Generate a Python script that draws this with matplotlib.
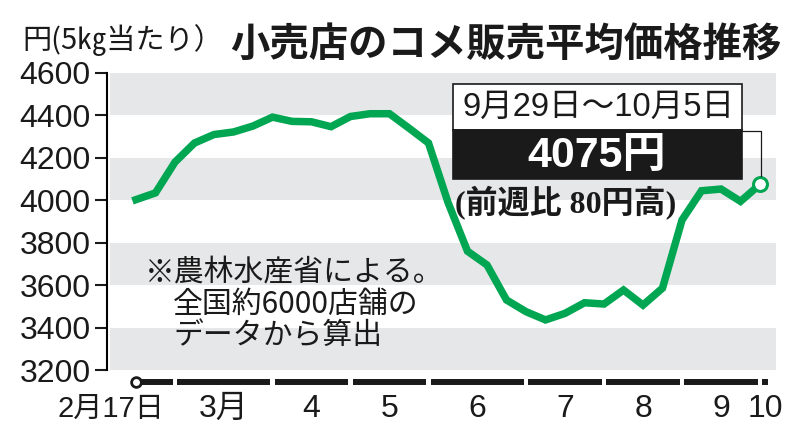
import matplotlib
matplotlib.use("Agg")
import matplotlib.pyplot as plt
from matplotlib.patches import Rectangle
from matplotlib.lines import Line2D

# ---- data ----
week_labels = ["2/17", "2/24", "3/3", "3/10", "3/17", "3/24", "3/31", "4/7", "4/14", "4/21",
               "4/28", "5/5", "5/12", "5/19", "5/26", "6/2", "6/9", "6/16", "6/23", "6/30",
               "7/7", "7/14", "7/21", "7/28", "8/4", "8/11", "8/18", "8/25", "9/1", "9/8",
               "9/15", "9/22", "9/29"]
prices = [4003, 4035, 4180, 4270, 4310, 4322, 4350, 4392, 4372, 4370,
          4347, 4395, 4408, 4408, 4340, 4270, 3990, 3760, 3695, 3530,
          3475, 3436, 3467, 3517, 3511, 3577, 3506, 3586, 3907, 4045,
          4053, 3995, 4075]
month_start_idx = [2, 7, 11, 15, 20, 24, 28, 32]
month_labels = ["3月", "4", "5", "6", "7", "8", "9", "10"]
first_label = "2月17日"
yticks = [3200, 3400, 3600, 3800, 4000, 4200, 4400, 4600]

title = "小売店のコメ販売平均価格推移"
unit = "円(5㎏当たり）"
box_period = "9月29日～10月5日"
box_value = "4075円"
box_change = "(前週比 80円高)"
note_lines = ["※農林水産省による。", "全国約6000店舗の", "データから算出"]

W, H = 800, 441
GREEN = "#00a651"
BAND = "#e6e7e9"
INK = "#1a1a1a"
CJK = "Noto Sans CJK JP"
NUM = ["Liberation Sans", CJK]

fig = plt.figure(figsize=(W / 100, H / 100), dpi=100)
fig.patch.set_facecolor("white")


def fx(x):
    return x / W


def fy(y):
    return 1 - y / H


# axes: plot area from x=110..776 px, y=73..370 px
ax = fig.add_axes([fx(110), fy(370), fx(776) - fx(110), fy(73) - fy(370)])
n = len(prices)
xs = list(range(n))
ax.set_xlim(-1.333, 32.82)
ax.set_ylim(3200, 4600)

for lo, hi in [(4400, 4600), (4000, 4200), (3600, 3800), (3200, 3400)]:
    ax.axhspan(lo, hi, color=BAND, lw=0, zorder=0)

ax.plot(xs, prices, color=GREEN, lw=5.4, solid_joinstyle="miter", zorder=3, clip_on=False)
ax.plot([xs[-1]], [prices[-1]], "o", ms=10, mfc="white", mec=GREEN, mew=2.2, zorder=4, clip_on=False)

for s in ["top", "right", "bottom"]:
    ax.spines[s].set_visible(False)
ax.spines["left"].set_linewidth(1.5)
ax.spines["left"].set_position(("outward", 2))
ax.set_yticks(yticks)
ax.set_yticklabels([str(v) for v in yticks], family=NUM, fontsize=23)
ax.tick_params(axis="y", length=9, width=1.5, pad=3, colors=INK)
ax.set_xticks([])
ax.set_facecolor("none")

# x axis bar segments below plot
trans = ax.get_xaxis_transform()
bounds = [xs[0]] + month_start_idx + [32.5]
gap = 0.11
for k in range(len(bounds) - 1):
    a = bounds[k] + (gap if k > 0 else 0)
    b = bounds[k + 1] - gap
    ax.add_line(Line2D([a, b], [-0.041, -0.041], transform=trans, color=INK,
                       lw=4.3, solid_capstyle="butt", clip_on=False))
ax.plot([xs[0]], [-0.041], "o", transform=trans, ms=7, mfc="white", mec=INK,
        mew=2, clip_on=False, zorder=5)

# month labels centered in segments
centers = [(bounds[k] + bounds[k + 1]) / 2 for k in range(1, len(bounds) - 1)]
for c, lab in zip(centers, month_labels):
    ax.text(c, -0.13, lab, transform=trans, ha="center", va="center",
            family=NUM, fontsize=23, color=INK)
ax.text(-1.28, -0.13, first_label, transform=trans, ha="center", va="center",
        family=NUM, fontsize=21, color=INK)

# titles
fig.text(fx(22), fy(40), unit, ha="left", va="center", family=CJK, fontsize=21, color=INK)
fig.text(fx(230), fy(44), title, ha="left", va="center", family=CJK, fontsize=28.4,
         fontweight="bold", color=INK)

# annotation box
fig.add_artist(Rectangle((fx(453), fy(130)), fx(742) - fx(453), fy(84) - fy(130),
                         transform=fig.transFigure, facecolor="white", edgecolor=INK, lw=1.2))
fig.add_artist(Rectangle((fx(453), fy(179)), fx(742) - fx(453), fy(130) - fy(179),
                         transform=fig.transFigure, facecolor=INK, edgecolor=INK, lw=1.2))
fig.text(fx(599), fy(107), box_period, ha="center", va="center", family=NUM, fontsize=23.5, color=INK)
fig.text(fx(597), fy(156), box_value, ha="center", va="center", family=NUM, fontsize=31,
         fontweight="bold", color="white")
fig.text(fx(455), fy(203), box_change, ha="left", va="center",
         family=["Liberation Serif", CJK], fontsize=23, fontweight="bold", color=INK)
fig.add_artist(Line2D([fx(742), fx(761), fx(761)], [fy(131), fy(131), fy(176)],
                      transform=fig.transFigure, color=INK, lw=0.9))

# note
fig.text(fx(145), fy(273), note_lines[0], ha="left", va="center", family=CJK, fontsize=21.5, color=INK)
fig.text(fx(173), fy(304), note_lines[1], ha="left", va="center", family=CJK, fontsize=21.5, color=INK)
fig.text(fx(173), fy(335), note_lines[2], ha="left", va="center", family=CJK, fontsize=21.5, color=INK)

fig.savefig("out.png", dpi=100)
